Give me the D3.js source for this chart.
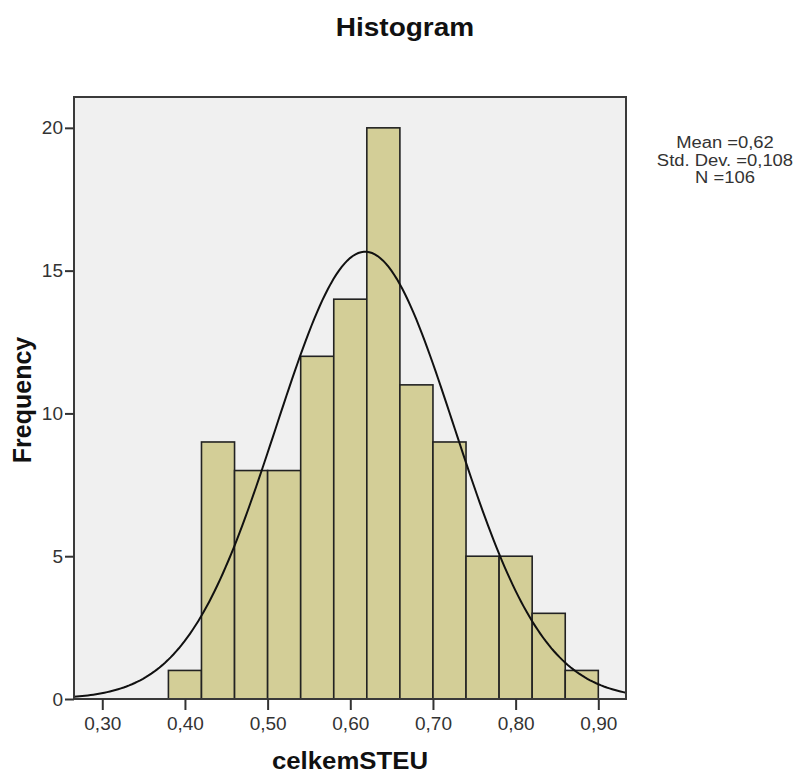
<!DOCTYPE html>
<html>
<head>
<meta charset="utf-8">
<script src="https://cdn.jsdelivr.net/npm/d3@7"></script>
<style>
  body { margin: 0; background: #fff; }
  text { font-family: "Liberation Sans", Arial, sans-serif; }
</style>
</head>
<body>
<div id="graph"></div>
<script>
// histogram bins (lower edges) and counts
const binLower = [0.38, 0.42, 0.46, 0.50, 0.54, 0.58, 0.62, 0.66, 0.70, 0.74, 0.78, 0.82, 0.86];
const counts = [1, 9, 8, 8, 12, 14, 20, 11, 9, 5, 5, 3, 1];
const binWidth = 0.04;

const xTickValues = [0.30, 0.40, 0.50, 0.60, 0.70, 0.80, 0.90];
const yTickValues = [0, 5, 10, 15, 20];

const statMean = 0.618;
const statSd = 0.108;
const statN = 106;

const W = 799, H = 776;
const plot = {left: 74, right: 626, top: 97, bottom: 699};

const x = d3.scaleLinear().domain([0.2658, 0.9335]).range([plot.left, plot.right]);
const y = d3.scaleLinear().domain([0, 21.08]).range([plot.bottom, plot.top]);

const comma = d => d3.format('.2f')(d).replace('.', ',');

const svg = d3.select('#graph').append('svg')
  .attr('width', W)
  .attr('height', H);

// widen text a bit, the original picture is stretched horizontally
function stretch(sel, k) {
  sel.each(function() {
    const w = this.getComputedTextLength();
    d3.select(this).attr('textLength', w * k).attr('lengthAdjust', 'spacingAndGlyphs');
  });
}

// plot background
svg.append('rect')
  .attr('x', plot.left).attr('y', plot.top)
  .attr('width', plot.right - plot.left).attr('height', plot.bottom - plot.top)
  .attr('fill', '#f0f0f0');

// bars
svg.append('g').selectAll('rect')
  .data(binLower.map((b, i) => ({x0: b, x1: b + binWidth, n: counts[i]})))
  .join('rect')
  .attr('x', d => x(d.x0))
  .attr('y', d => y(d.n))
  .attr('width', d => x(d.x1) - x(d.x0))
  .attr('height', d => y(0) - y(d.n))
  .attr('fill', '#d3ce97')
  .attr('stroke', '#222')
  .attr('stroke-width', 1.6);

// normal curve
const curvePts = d3.range(0, 201).map(i => {
  const v = x.domain()[0] + (x.domain()[1] - x.domain()[0]) * i / 200;
  const z = (v - statMean) / statSd;
  return [v, statN * binWidth / (statSd * Math.sqrt(2 * Math.PI)) * Math.exp(-z * z / 2)];
});
const line = d3.line().x(d => x(d[0])).y(d => y(d[1]));
svg.append('path')
  .attr('d', line(curvePts))
  .attr('fill', 'none')
  .attr('stroke', '#111')
  .attr('stroke-width', 2);

// frame
svg.append('rect')
  .attr('x', plot.left).attr('y', plot.top)
  .attr('width', plot.right - plot.left).attr('height', plot.bottom - plot.top)
  .attr('fill', 'none')
  .attr('stroke', '#3a3a3a')
  .attr('stroke-width', 2);

// x axis
const xg = svg.append('g')
  .attr('transform', 'translate(0,' + plot.bottom + ')')
  .call(d3.axisBottom(x).tickValues(xTickValues).tickFormat(comma).tickSize(11).tickPadding(7));
// y axis
const yg = svg.append('g')
  .attr('transform', 'translate(' + plot.left + ',0)')
  .call(d3.axisLeft(y).tickValues(yTickValues).tickSize(9).tickPadding(2));

[xg, yg].forEach(g => {
  g.select('.domain').remove();
  g.selectAll('line').attr('stroke', '#333').attr('stroke-width', 2);
  g.selectAll('text')
    .attr('fill', '#333')
    .style('font-size', '19px')
    .style('font-family', '"Liberation Sans", Arial, sans-serif');
});

// title
svg.append('text')
  .attr('x', 405).attr('y', 36)
  .attr('text-anchor', 'middle')
  .style('font-size', '25px').style('font-weight', 'bold')
  .attr('fill', '#111')
  .text('Histogram')
  .call(stretch, 1.12);

// x label
svg.append('text')
  .attr('x', 350).attr('y', 769)
  .attr('text-anchor', 'middle')
  .style('font-size', '23px').style('font-weight', 'bold')
  .attr('fill', '#111')
  .text('celkemSTEU')
  .call(stretch, 1.12);

// y label
svg.append('text')
  .attr('transform', 'translate(31,400) rotate(-90)')
  .attr('text-anchor', 'middle')
  .style('font-size', '25px').style('font-weight', 'bold')
  .attr('fill', '#111')
  .text('Frequency');

// stats box
const statLines = [
  'Mean =' + comma(statMean),
  'Std. Dev. =' + d3.format('.3f')(statSd).replace('.', ','),
  'N =' + statN
];
svg.append('g').selectAll('text')
  .data(statLines)
  .join('text')
  .attr('x', 725)
  .attr('y', (d, i) => 148 + i * 17.5)
  .attr('text-anchor', 'middle')
  .style('font-size', '16px')
  .attr('fill', '#333')
  .text(d => d)
  .call(stretch, 1.15);
</script>
</body>
</html>
